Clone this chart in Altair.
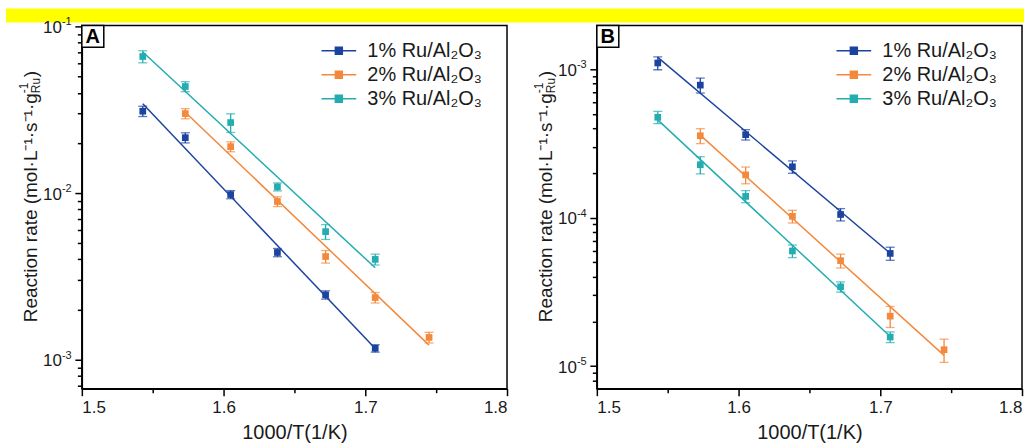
import altair as alt
import pandas as pd

FONT = "Liberation Sans"
INK = "#1a1a1a"

series = ["1% Ru/Al₂O₃", "2% Ru/Al₂O₃", "3% Ru/Al₂O₃"]
colors = ["#1b43a0", "#f4883b", "#24adb0"]

# 1000/T (1/K) of each run, per catalyst loading
inv_t_1 = [1.543, 1.573, 1.605, 1.638, 1.672, 1.707]
inv_t_2 = [1.573, 1.605, 1.638, 1.672, 1.707, 1.745]
inv_t_3 = [1.543, 1.573, 1.605, 1.638, 1.672, 1.707]

# Panel A: reaction rates and error bars
rate_a_1 = [0.0310, 0.0215, 0.0098, 0.0044, 0.00245, 0.00117]
err_a_1 = [0.0022, 0.0015, 0.00055, 0.00025, 0.00014, 0.00006]
rate_a_2 = [0.0300, 0.0190, 0.0089, 0.00416, 0.00236, 0.00136]
err_a_2 = [0.0021, 0.0013, 0.0006, 0.00036, 0.00017, 0.0001]
rate_a_3 = [0.0660, 0.0436, 0.0265, 0.0109, 0.00587, 0.0040]
err_a_3 = [0.0055, 0.0030, 0.0034, 0.0006, 0.0006, 0.0003]

# Panel B: reaction rates and error bars
rate_b_1 = [1.10e-3, 7.8e-4, 3.62e-4, 2.2e-4, 1.05e-4, 5.74e-5]
err_b_1 = [1.1e-4, 0.9e-4, 0.29e-4, 0.21e-4, 0.1e-4, 0.58e-5]
rate_b_2 = [3.56e-4, 1.94e-4, 1.02e-4, 5.13e-5, 2.17e-5, 1.29e-5]
err_b_2 = [0.41e-4, 0.25e-4, 0.1e-4, 0.55e-5, 0.35e-5, 0.23e-5]
rate_b_3 = [4.74e-4, 2.27e-4, 1.39e-4, 5.96e-5, 3.42e-5, 1.57e-5]
err_b_3 = [0.45e-4, 0.3e-4, 0.13e-4, 0.58e-5, 0.27e-5, 0.13e-5]

# axis ticks and decade labels
x_ticks = [1.5, 1.55, 1.6, 1.65, 1.7, 1.75, 1.8]
mantissas = [1, 2, 3, 4, 5, 6, 7, 8, 9]
decades_a = [1e-1, 1e-2, 1e-3]
exponents_a = ["-1", "-2", "-3"]
decades_b = [1e-3, 1e-4, 1e-5]
exponents_b = ["-3", "-4", "-5"]

W, H = 426, 364

LOG10 = "log(datum.value)/LN10"
IS_DECADE = f"abs({LOG10} - round({LOG10})) < 1e-6"
IS_TENTH = "abs(datum.value*10 - round(datum.value*10)) < 1e-6"

# legend glyph: a short line with a filled square in the middle
# (unit = sqrt(symbolSize)/2 = 6 px)
legend_symbol = (
    "M-2.9,0H2.9"
    "M-0.58,-0.58H0.58V0.58H-0.58Z"
    "M-0.58,-0.29H0.58M-0.58,0H0.58M-0.58,0.29H0.58"
)


def log_ticks(lo, hi):
    out = []
    for e in range(-7, 1):
        for m in mantissas:
            v = m * 10.0 ** e
            if lo <= v <= hi:
                out.append(v)
    return out


def panel(rates, errs, y_domain, decades, exponents, letter, banner):
    xs = inv_t_1 + inv_t_2 + inv_t_3
    df = pd.DataFrame({
        "x": xs,
        "rate": rates[0] + rates[1] + rates[2],
        "err": errs[0] + errs[1] + errs[2],
        "series": [series[0]] * len(inv_t_1) + [series[1]] * len(inv_t_2) + [series[2]] * len(inv_t_3),
    })

    x_axis = alt.Axis(
        values=x_ticks,
        labelExpr=f"{IS_TENTH} ? format(datum.value, '.1f') : ''",
        tickSize={"condition": {"test": IS_TENTH, "value": 7}, "value": 4},
        labelPadding=4,
        labelFontSize=17,
        title="1000/T(1/K)",
        titleFontSize=20,
        titleFontWeight="normal",
        titleBaseline="alphabetic",
        titleY=50,
    )
    y_axis = alt.Axis(
        values=log_ticks(*y_domain),
        labels=False,
        tickSize={"condition": {"test": IS_DECADE, "value": 7}, "value": 4.5},
        title=None,
    )
    xs_scale = alt.Scale(domain=[1.5, 1.8], nice=False, zero=False)
    ys_scale = alt.Scale(type="log", domain=y_domain, nice=False)
    cscale = alt.Scale(domain=series, range=colors)

    def X():
        return alt.X("x:Q", scale=xs_scale, axis=x_axis)

    def Y(field):
        return alt.Y(field, scale=ys_scale, axis=y_axis)

    base = alt.Chart(df)

    fit = (
        base.transform_calculate(ly="log(datum.rate)")
        .transform_regression("x", "ly", groupby=["series"])
        .transform_calculate(fit="exp(datum.ly)")
        .mark_line(strokeWidth=1.5)
        .encode(
            x=X(),
            y=Y("fit:Q"),
            color=alt.Color(
                "series:N",
                scale=cscale,
                legend=alt.Legend(
                    orient="none",
                    legendX=247.5,
                    legendY=15.5,
                    title=None,
                    symbolType=legend_symbol,
                    symbolSize=144,
                    symbolStrokeWidth=1.5,
                    labelFont=FONT,
                    labelFontSize=20,
                    labelColor=INK,
                    labelOffset=18.5,
                    rowPadding=4,
                    padding=0,
                ),
            ),
        )
    )

    bounds = base.transform_calculate(
        lo="datum.rate - datum.err", hi="datum.rate + datum.err"
    )
    bars = bounds.mark_rule(strokeWidth=1.3).encode(
        x=X(),
        y=Y("lo:Q"),
        y2="hi:Q",
        stroke=alt.Stroke("series:N", scale=cscale, legend=None),
    )
    caps = (
        bounds.transform_fold(["lo", "hi"], as_=["end", "val"])
        .mark_tick(orient="horizontal", size=9, thickness=1.3)
        .encode(
            x=X(),
            y=Y("val:Q"),
            fill=alt.Fill("series:N", scale=cscale, legend=None),
        )
    )
    pts = base.mark_square(size=45, opacity=1, filled=True).encode(
        x=X(),
        y=Y("rate:Q"),
        fill=alt.Fill("series:N", scale=cscale, legend=None),
    )

    # decade labels on the log axis: "10" with a raised exponent
    dec = alt.Chart(pd.DataFrame({"v": decades, "base": ["10"] * len(decades), "exp": exponents}))
    dec_base = dec.mark_text(
        font=FONT, fontSize=17, align="right", baseline="middle", dy=1.5, color=INK
    ).encode(x=alt.value(-20), y=alt.Y("v:Q", scale=ys_scale, axis=y_axis), text="base:N")
    dec_exp = dec.mark_text(
        font=FONT, fontSize=11, align="left", baseline="middle", dy=-4, color=INK
    ).encode(x=alt.value(-20), y=alt.Y("v:Q", scale=ys_scale, axis=y_axis), text="exp:N")

    tag = alt.Chart(pd.DataFrame({"letter": [letter]}))
    box = tag.mark_rect(fill="white", stroke="black", strokeWidth=1.5).encode(
        x=alt.value(0), x2=alt.value(22), y=alt.value(0), y2=alt.value(22)
    )
    box_text = tag.mark_text(
        font=FONT, fontSize=20, fontWeight="bold", align="center", baseline="middle", color="black"
    ).encode(text="letter:N", x=alt.value(11), y=alt.value(12))

    # rotated y-axis title with a stacked script on g
    ytitle = alt.Chart(pd.DataFrame({
        "txt": ["Reaction rate (mol·L⁻¹·s⁻¹·g", "-1", "Ru", ")"],
    }))
    main = ytitle.transform_filter("datum.txt != '-1' && datum.txt != 'Ru' && datum.txt != ')'").mark_text(
        font=FONT, fontSize=19, angle=270, align="right", baseline="alphabetic", color=INK
    ).encode(text="txt:N", x=alt.value(-45), y=alt.value(68))
    sup = ytitle.transform_filter("datum.txt == '-1'").mark_text(
        font=FONT, fontSize=12, angle=270, align="left", baseline="alphabetic", color=INK
    ).encode(text="txt:N", x=alt.value(-54), y=alt.value(68))
    sub = ytitle.transform_filter("datum.txt == 'Ru'").mark_text(
        font=FONT, fontSize=12, angle=270, align="left", baseline="alphabetic", color=INK
    ).encode(text="txt:N", x=alt.value(-42), y=alt.value(68))
    close = ytitle.transform_filter("datum.txt == ')'").mark_text(
        font=FONT, fontSize=19, angle=270, align="left", baseline="alphabetic", color=INK
    ).encode(text="txt:N", x=alt.value(-45), y=alt.value(52))

    layers = [fit, bars, caps, pts, dec_base, dec_exp, box, box_text, main, sup, sub, close]
    if banner:
        band = alt.Chart(pd.DataFrame({"k": [0]})).mark_rect(color="#ffff00").encode(
            x=alt.value(-76), x2=alt.value(944), y=alt.value(-17), y2=alt.value(-3)
        )
        layers.insert(0, band)
    return alt.layer(*layers).properties(width=W, height=H)


panel_a = panel(
    [rate_a_1, rate_a_2, rate_a_3], [err_a_1, err_a_2, err_a_3],
    [6.7e-4, 0.1015], decades_a, exponents_a, "A", True,
)
panel_b = panel(
    [rate_b_1, rate_b_2, rate_b_3], [err_b_1, err_b_2, err_b_3],
    [7.05e-6, 1.97e-3], decades_b, exponents_b, "B", False,
)

chart = (
    alt.hconcat(panel_a, panel_b, spacing=90)
    .properties(bounds="flush", padding={"left": 5, "top": 7, "right": 1, "bottom": 1})
    .resolve_scale(x="independent", y="independent", color="independent",
                   fill="independent", stroke="independent")
    .configure(background="white", font=FONT)
    .configure_view(stroke="black", strokeWidth=1.5)
    .configure_axis(
        domainColor="black",
        domainWidth=1.5,
        tickColor="black",
        tickWidth=1.5,
        labelFont=FONT,
        labelFontSize=17,
        labelColor=INK,
        titleFont=FONT,
        titleColor=INK,
        grid=False,
    )
)

chart.save("out.html", embed_options={"renderer": "svg", "actions": False})
